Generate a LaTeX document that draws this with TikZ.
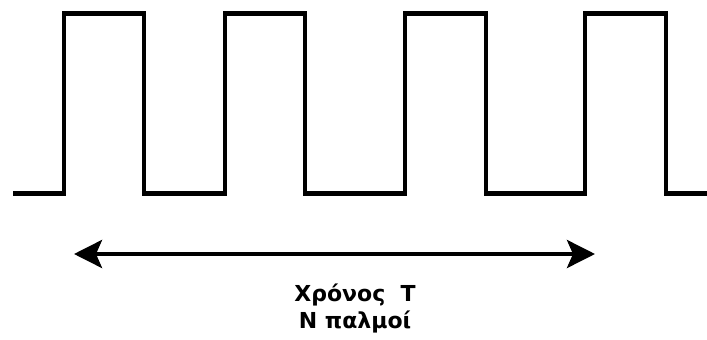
\documentclass[tikz,border=0pt]{standalone}
\usepackage{fontspec}
\setmainfont{DejaVu Sans}
\usetikzlibrary{arrows.meta}
\tikzset{
  wave/.style={line width=4.5pt, line cap=butt, line join=miter},
  span/.style={line width=4pt, {Stealth[length=28pt,width=28pt,inset=6pt]}-{Stealth[length=28pt,width=28pt,inset=6pt]}},
  caption/.style={font=\fontsize{22pt}{27pt}\selectfont\bfseries, anchor=base, inner sep=0pt}
}
\begin{document}
\begin{tikzpicture}[x=1pt,y=-1pt]
\useasboundingbox (0,0) rectangle (707,340);
\draw[wave] (13,193.5) -- (64,193.5) -- (64,13.5) -- (144,13.5) -- (144,193.5)
  -- (225,193.5) -- (225,13.5) -- (305,13.5) -- (305,193.5)
  -- (405,193.5) -- (405,13.5) -- (486,13.5) -- (486,193.5) -- (535,193.5);
\draw[wave] (535,193.5) -- (585,193.5) -- (585,13.5) -- (666,13.5) -- (666,193.5) -- (707,193.5);
\coordinate (aL) at (74,254);
\coordinate (aR) at (595,254);
\draw[span] (aL) -- (aR);
\node[caption] (lbl1) at (355,301) {Χρόνος\ \ T};
\node[caption] (lbl2) at (355,328) {Ν παλμοί};
\end{tikzpicture}
\end{document}
